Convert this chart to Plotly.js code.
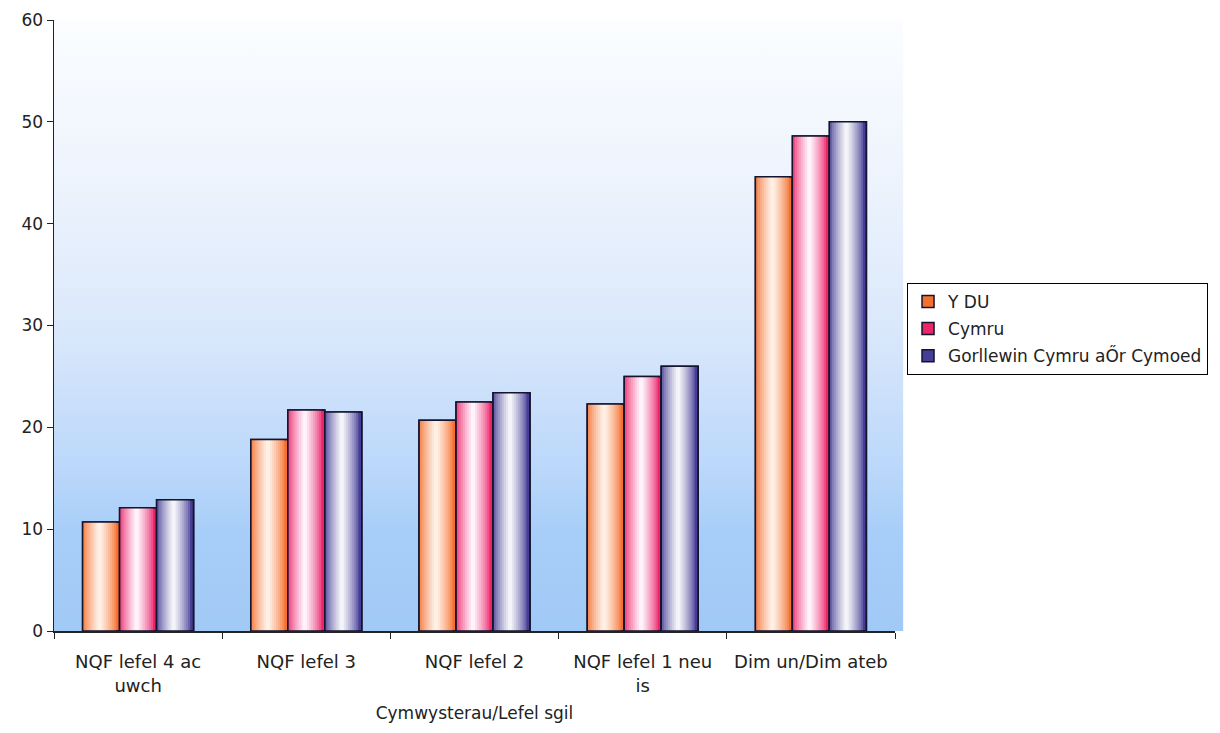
<!DOCTYPE html>
<html>
<head>
<meta charset="utf-8">
<script src="https://cdn.plot.ly/plotly-3.0.1.min.js"></script>
<style>
  html, body { margin: 0; padding: 0; background: #ffffff; }
  #chart { width: 1220px; height: 733px; }
</style>
</head>
<body>
<div id="chart"></div>
<script>
// ---- Data ----
const categories = ["NQF lefel 4 ac<br>uwch", "NQF lefel 3", "NQF lefel 2", "NQF lefel 1 neu<br>is", "Dim un/Dim ateb"];
const seriesNames = ["Y DU", "Cymru", "Gorllewin Cymru aŐr Cymoed"];
const ydu = [10.7, 18.8, 20.7, 22.3, 44.6];
const cymru = [12.1, 21.7, 22.5, 25.0, 48.6];
const gorllewin = [12.9, 21.5, 23.4, 26.0, 50.0];
const yTicks = [0, 10, 20, 30, 40, 50, 60];
const xTitle = "Cymwysterau/Lefel sgil";

// ---- Styles ----
const seriesValues = [ydu, cymru, gorllewin];
const edgeColors = [[244, 112, 48], [236, 36, 104], [70, 62, 150]];
const centerColors = [[255, 240, 230], [255, 242, 250], [244, 244, 248]];
const outlineColor = "#14142e";
const groupWidth = 0.66;           // category fraction used by a group
const barW = groupWidth / 3;
const nLayers = 9;

function mix(a, b, t) {
  return "rgb(" + a.map((v, i) => Math.round(v + (b[i] - v) * t)).join(",") + ")";
}

const traces = [];
seriesValues.forEach((vals, s) => {
  const center = -groupWidth / 2 + barW * s + barW / 2;
  for (let k = 0; k < nLayers; k++) {
    const f = 1 - k / nLayers;
    const w = barW * f;
    const t = Math.pow(k / (nLayers - 1), 0.75);
    traces.push({
      type: "bar",
      name: seriesNames[s],
      legendgroup: "g" + s,
      showlegend: k === 0,
      x: categories,
      y: vals,
      width: categories.map(() => w),
      offset: categories.map(() => center - w / 2 - (k > 0 ? barW * 0.04 : 0)),
      marker: {
        color: mix(edgeColors[s], centerColors[s], t),
        line: { width: k === 0 ? 1.5 : 0, color: outlineColor }
      },
      hoverinfo: k === 0 ? "x+y+name" : "skip"
    });
  }
  traces.push({
    type: "bar",
    name: seriesNames[s],
    legendgroup: "g" + s,
    showlegend: false,
    x: categories,
    y: vals,
    width: categories.map(() => barW),
    offset: categories.map(() => center - barW / 2),
    marker: { color: "rgba(0,0,0,0)", line: { width: 1.5, color: outlineColor } },
    hoverinfo: "skip"
  });
});

// vertical background gradient (styling only)
const bgSvg = '<svg xmlns="http://www.w3.org/2000/svg" width="100" height="100" preserveAspectRatio="none">' +
  '<defs><linearGradient id="g" x1="0" y1="0" x2="0" y2="1">' +
  '<stop offset="0" stop-color="#fbfdff"/>' +
  '<stop offset="0.25" stop-color="#eef4fd"/>' +
  '<stop offset="0.5" stop-color="#dbe8fb"/>' +
  '<stop offset="0.74" stop-color="#bad7fa"/>' +
  '<stop offset="0.84" stop-color="#a7cef8"/>' +
  '<stop offset="1" stop-color="#a1c9f5"/>' +
  '</linearGradient></defs><rect width="100" height="100" fill="url(#g)"/></svg>';
const bgUri = "data:image/svg+xml;base64," + btoa(bgSvg);

const fontFamily = "DejaVu Sans, Verdana, sans-serif";

const layout = {
  width: 1220,
  height: 733,
  margin: { l: 54, r: 325, t: 20, b: 102 },
  paper_bgcolor: "#ffffff",
  plot_bgcolor: "rgba(0,0,0,0)",
  barmode: "overlay",
  showlegend: true,
  font: { family: fontFamily, color: "#222222", size: 17 },
  images: [{
    source: bgUri, xref: "paper", yref: "paper", x: 0, y: 1,
    sizex: 1.01, sizey: 1, sizing: "stretch", layer: "below",
    xanchor: "left", yanchor: "top"
  }],
  xaxis: {
    type: "category",
    showgrid: false,
    showline: true,
    linecolor: "#222222",
    linewidth: 1.5,
    ticks: "outside",
    tickson: "boundaries",
    ticklen: 6,
    tickcolor: "#222222",
    tickfont: { family: fontFamily, size: 18, color: "#222222" },
    ticklabelstandoff: 14,
    range: [-0.5, 4.5],
    fixedrange: true,
    title: { text: xTitle, font: { family: fontFamily, size: 17, color: "#222222" }, standoff: 12 }
  },
  yaxis: {
    range: [0, 60],
    tickvals: yTicks,
    showgrid: false,
    zeroline: false,
    showline: true,
    linecolor: "#222222",
    linewidth: 1.5,
    ticks: "outside",
    ticklen: 6,
    tickcolor: "#222222",
    tickfont: { family: fontFamily, size: 17, color: "#222222" },
    fixedrange: true
  },
  legend: {
    x: 1.0143,
    y: 0.5696,
    xanchor: "left",
    yanchor: "top",
    bgcolor: "#ffffff",
    bordercolor: "#000000",
    borderwidth: 1,
    traceorder: "grouped",
    tracegroupgap: 2,
    itemwidth: 30,
    font: { family: fontFamily, size: 17, color: "#222222" }
  }
};

Plotly.newPlot("chart", traces, layout, { displayModeBar: false, staticPlot: true });
</script>
</body>
</html>
